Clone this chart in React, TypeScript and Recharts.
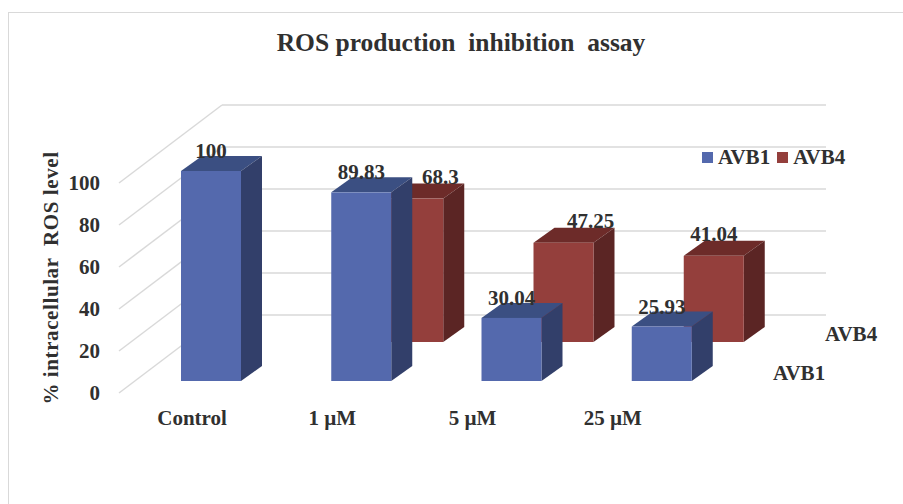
import { BarChart, Bar, XAxis, YAxis, CartesianGrid, LabelList } from 'recharts';

const categories = ['Control', '1 µM', '5 µM', '25 µM'];
const avb1 = [100, 89.83, 30.04, 25.93];
const avb4 = [null, 68.3, 47.25, 41.04];
const yTicks = [0, 20, 40, 60, 80, 100];
const seriesNames = ['AVB1', 'AVB4'];

const data = categories.map((name, i) => ({ name, AVB1: avb1[i], AVB4: avb4[i] }));

const FONT = '"Liberation Serif", "Times New Roman", serif';
const TEXT = '#303030';

const BLUE = { front: '#5469ad', top: '#3b4f82', side: '#323f6a' };
const RED = { front: '#943f3c', top: '#6d2b29', side: '#5b2524' };
const seriesColors = [BLUE.front, RED.front];

// depth of one prism, and shift of the back row (AVB4) behind the front row
const DEPTH_X = 21;
const DEPTH_Y = 15;
const ROW_X = 52;
const ROW_Y = -39;
// back wall sits two rows behind the front plane
const WALL_X = 222;
const WALL_RIGHT = 826;

const Box3D = (props: any) => {
  const { x, y, width, height, colors, back } = props;
  if (!height || height <= 0) return null;
  const x0 = x + (back ? ROW_X : 0);
  const y0 = y + (back ? ROW_Y : 0);
  const w = width;
  const h = height;
  return (
    <g>
      <polygon
        points={`${x0},${y0} ${x0 + DEPTH_X},${y0 - DEPTH_Y} ${x0 + w + DEPTH_X},${y0 - DEPTH_Y} ${x0 + w},${y0}`}
        fill={colors.top}
      />
      <polygon
        points={`${x0 + w},${y0} ${x0 + w + DEPTH_X},${y0 - DEPTH_Y} ${x0 + w + DEPTH_X},${y0 + h - DEPTH_Y} ${x0 + w},${y0 + h}`}
        fill={colors.side}
      />
      <rect x={x0} y={y0} width={w} height={h} fill={colors.front} />
    </g>
  );
};

const valueLabel = (back: boolean) => (props: any) => {
  const { x, y, width, value, index } = props;
  if (value == null) return null;
  let cx = x + width / 2;
  let cy = y - 13;
  if (back) {
    cx += ROW_X;
    cy += ROW_Y - 2;
    // front bar hides this one's top face, so move the label to the visible part
    if ((avb1[index] ?? 0) > value) cx += 27;
  }
  return (
    <text x={cx} y={cy} textAnchor="middle" fontFamily={FONT} fontWeight="bold" fontSize={21} fill={TEXT}>
      {value}
    </text>
  );
};

// floor/side-wall diagonal plus back-wall line for each y tick
const gridLine = (props: any) => {
  const { y1, key } = props;
  return (
    <g key={key}>
      <line x1={119} y1={y1 + 12} x2={WALL_X} y2={y1 - 66} stroke="#d9d9d9" strokeWidth={1.5} />
      <line x1={WALL_X} y1={y1 - 66} x2={WALL_RIGHT} y2={y1 - 66} stroke="#d9d9d9" strokeWidth={1.5} />
    </g>
  );
};

const YTick = (props: any) => {
  const { y, payload } = props;
  return (
    <text x={100} y={y + 12} textAnchor="end" dominantBaseline="central" fontFamily={FONT} fontWeight="bold" fontSize={21} fill={TEXT}>
      {payload.value}
    </text>
  );
};

// category labels sit on the front edge of the floor, pulled in by perspective
const XTick = (props: any) => {
  const { x, payload } = props;
  return (
    <text x={x * 0.9335 - 5} y={418} textAnchor="middle" dominantBaseline="central" fontFamily={FONT} fontWeight="bold" fontSize={21} fill={TEXT}>
      {payload.value}
    </text>
  );
};

const textStyle = { position: 'absolute' as const, fontFamily: FONT, fontWeight: 'bold' as const, fontSize: 21, color: TEXT, lineHeight: '24px', whiteSpace: 'pre' as const };

export default function App() {
  return (
    <div style={{ position: 'absolute', left: 0, top: 0, width: 903, height: 504, background: '#fff', overflow: 'hidden' }}>
      <div style={{ position: 'absolute', left: 8, top: 12, width: 1000, height: 600, border: '1.5px solid #d9d9d9' }} />
      <div style={{ ...textStyle, left: 0, top: 28, width: 922, textAlign: 'center', fontSize: 25.5, lineHeight: '30px' }}>
        {'ROS production  inhibition  assay'}
      </div>
      <div style={{ ...textStyle, left: -99, top: 266, width: 300, height: 24, textAlign: 'center', transform: 'rotate(-90deg)', letterSpacing: 0.6 }}>
        {'% intracellular  ROS level'}
      </div>
      <div style={{ ...textStyle, left: 773, top: 361 }}>AVB1</div>
      <div style={{ ...textStyle, left: 825, top: 322 }}>AVB4</div>
      <div style={{ ...textStyle, left: 702, top: 145, display: 'flex', alignItems: 'center' }}>
        {seriesNames.map((name, i) => (
          <span key={name} style={{ display: 'flex', alignItems: 'center', marginRight: 7 }}>
            <span style={{ width: 11, height: 11, background: seriesColors[i], marginRight: 5 }} />
            {name}
          </span>
        ))}
      </div>
      <div style={{ position: 'absolute', left: 0, top: 0 }}>
        <BarChart width={903} height={504} data={data} margin={{ top: 171, right: 166, bottom: 93, left: 96 }}>
          <CartesianGrid vertical={false} horizontal={gridLine} />
          <XAxis dataKey="name" height={30} axisLine={false} tickLine={false} tick={<XTick />} interval={0} />
          <XAxis dataKey="name" xAxisId="back" hide />
          <YAxis width={40} domain={[0, 100]} ticks={yTicks} axisLine={false} tickLine={false} tick={<YTick />} />
          <Bar dataKey="AVB4" xAxisId="back" barSize={60} isAnimationActive={false} shape={(p: any) => <Box3D {...p} colors={RED} back />}>
            <LabelList dataKey="AVB4" content={valueLabel(true)} />
          </Bar>
          <Bar dataKey="AVB1" barSize={60} isAnimationActive={false} shape={(p: any) => <Box3D {...p} colors={BLUE} />}>
            <LabelList dataKey="AVB1" content={valueLabel(false)} />
          </Bar>
        </BarChart>
      </div>
    </div>
  );
}
